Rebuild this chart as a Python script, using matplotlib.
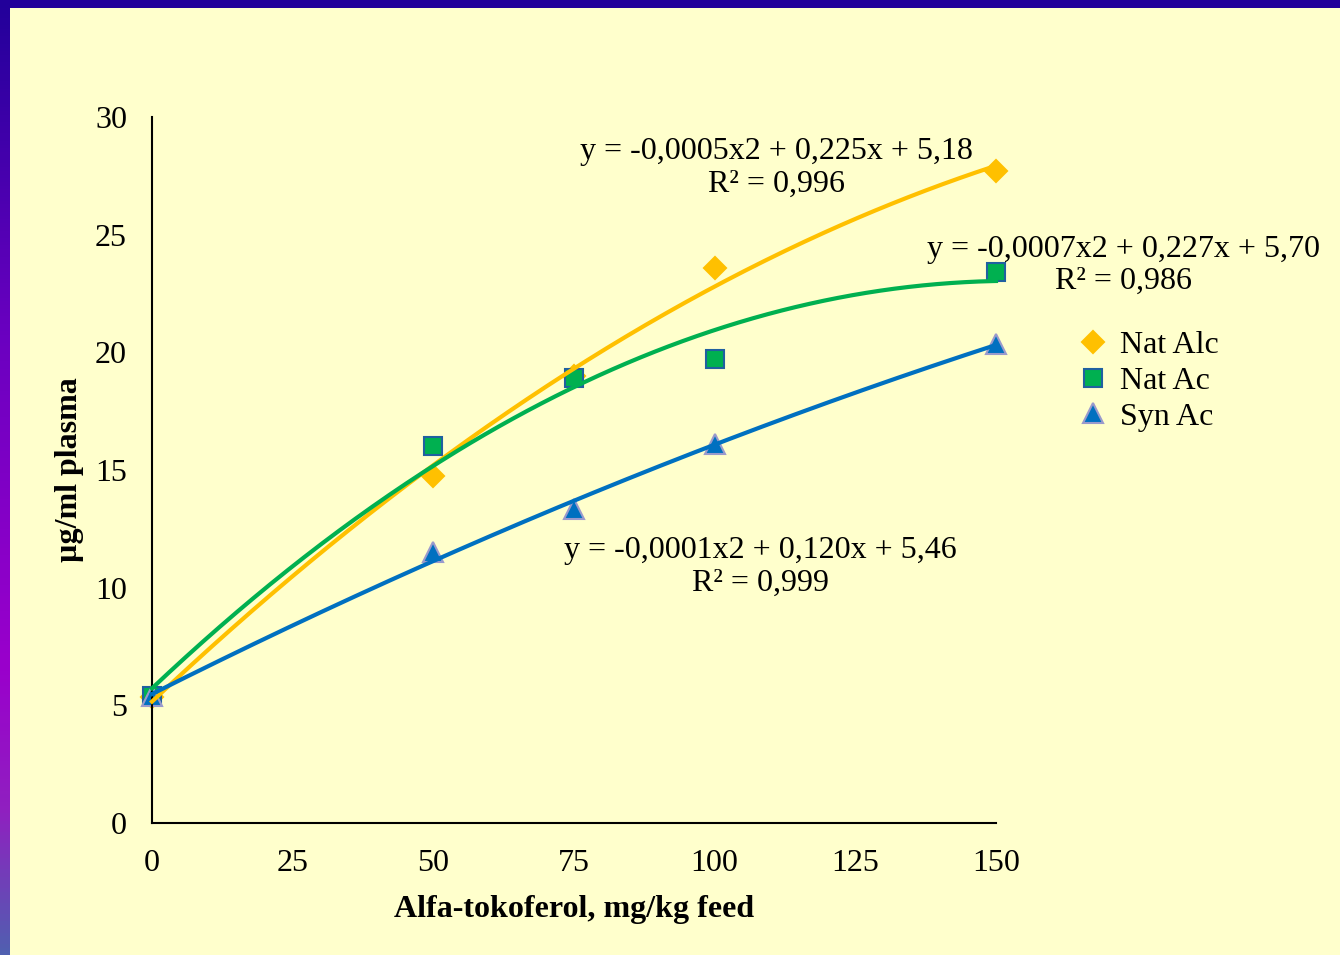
import numpy as np
import matplotlib
matplotlib.use("Agg")
import matplotlib.pyplot as plt
from matplotlib.colors import LinearSegmentedColormap
from matplotlib.patches import Rectangle

# data
dose = [0, 50, 75, 100, 150]
nat_alc = [5.35, 14.75, 19.0, 23.6, 27.7]
nat_ac = [5.4, 16.0, 18.9, 19.7, 23.4]
syn_ac = [5.4, 11.5, 13.35, 16.1, 20.35]

series_names = ["Nat Alc", "Nat Ac", "Syn Ac"]
equations = [
    "y = -0,0005x2 + 0,225x + 5,18\nR² = 0,996",
    "y = -0,0007x2 + 0,227x + 5,70\nR² = 0,986",
    "y = -0,0001x2 + 0,120x + 5,46\nR² = 0,999",
]
x_ticks = [0, 25, 50, 75, 100, 125, 150]
y_ticks = [0, 5, 10, 15, 20, 25, 30]

plt.rcParams['font.family'] = ['Liberation Serif', 'DejaVu Serif']
FS = 23

W, H = 1340, 955
fig = plt.figure(figsize=(W / 100, H / 100), dpi=100, facecolor='#FFFFCC')

# purple frame on the left and top edges
grad = LinearSegmentedColormap.from_list(
    'frame', [(0.0, '#22009A'), (0.35, '#6A00C0'), (0.7, '#9A00CC'), (0.85, '#9020C0'), (1.0, '#5060B0')])
bax = fig.add_axes([0, 0, 10 / W, 1])
bax.imshow(np.linspace(0, 1, 256).reshape(-1, 1), aspect='auto', cmap=grad, extent=[0, 1, 1, 0])
bax.set_axis_off()
fig.patches.append(Rectangle((0, 1 - 8 / H), 1, 8 / H, transform=fig.transFigure,
                             facecolor='#22009A', edgecolor='none'))

ax = fig.add_axes([152 / W, 1 - 823 / H, (996 - 152) / W, (823 - 117) / H])
ax.set_facecolor('none')

styles = [
    dict(marker='D', color='#FFC000', mec='#FFC000', ms=11),
    dict(marker='s', color='#00B050', mec='#2060A0', ms=13),
    dict(marker='^', color='#0070C0', mec='#9A9ACC', ms=15),
]
xs = np.linspace(0, 150, 300)
for vals, name, st in zip([nat_alc, nat_ac, syn_ac], series_names, styles):
    ax.plot(dose, vals, linestyle='none', marker=st['marker'], ms=st['ms'],
            mfc=st['color'], mec=st['mec'], mew=1.5, label=name, zorder=2, clip_on=False)
    coef = np.polyfit(dose, vals, 2)
    ax.plot(xs, np.polyval(coef, xs), color=st['color'], lw=3, zorder=3, clip_on=False)

ax.set_xlim(0, 150)
ax.set_ylim(0, 30)
ax.set_xticks(x_ticks)
ax.set_yticks(y_ticks)
ax.tick_params(length=0, labelsize=FS)
ax.tick_params(axis='y', pad=18)
ax.tick_params(axis='x', pad=19)
for s in ['top', 'right']:
    ax.spines[s].set_visible(False)
for s in ['left', 'bottom']:
    ax.spines[s].set_linewidth(1.5)

ax.set_xlabel("Alfa-tokoferol, mg/kg feed", fontsize=FS, fontweight='bold', labelpad=12)
ax.set_ylabel("µg/ml plasma", fontsize=FS, fontweight='bold', labelpad=8)

eq_pos = [(111, 27.84), (172.7, 23.7), (108.2, 10.88)]
for txt, (ex, ey) in zip(equations, eq_pos):
    ax.text(ex, ey, txt, ha='center', va='center', multialignment='center',
            fontsize=FS, linespacing=1.15, clip_on=False)

ax.legend(loc='upper left', bbox_to_anchor=(1064 / W, 1 - 318 / H), bbox_transform=fig.transFigure,
          frameon=False, fontsize=FS, handletextpad=0.35, labelspacing=0.2, handlelength=1.0,
          borderaxespad=0)

fig.savefig('out.png', dpi=100, facecolor=fig.get_facecolor())
